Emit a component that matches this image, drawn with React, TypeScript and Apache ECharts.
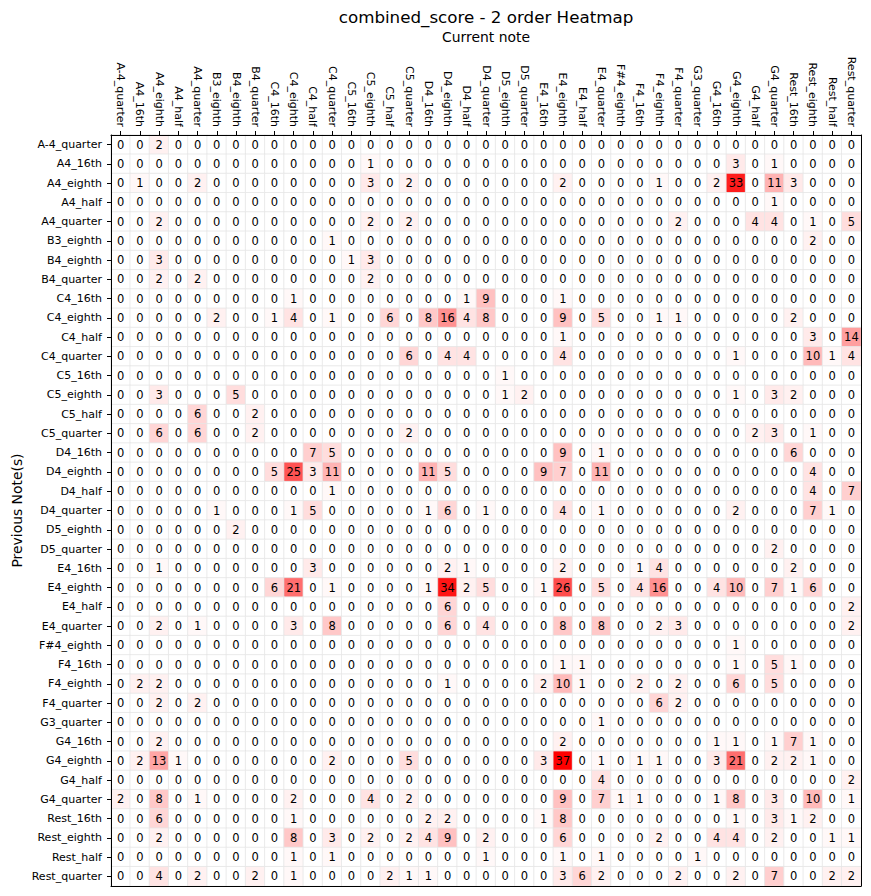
import React, { useEffect, useRef } from 'react';
import * as echarts from 'echarts';

const noteLabels = [
  'A-4_quarter', 'A4_16th', 'A4_eighth', 'A4_half', 'A4_quarter', 'B3_eighth', 'B4_eighth', 'B4_quarter',
  'C4_16th', 'C4_eighth', 'C4_half', 'C4_quarter', 'C5_16th', 'C5_eighth', 'C5_half', 'C5_quarter',
  'D4_16th', 'D4_eighth', 'D4_half', 'D4_quarter', 'D5_eighth', 'D5_quarter', 'E4_16th', 'E4_eighth',
  'E4_half', 'E4_quarter', 'F#4_eighth', 'F4_16th', 'F4_eighth', 'F4_quarter', 'G3_quarter', 'G4_16th',
  'G4_eighth', 'G4_half', 'G4_quarter', 'Rest_16th', 'Rest_eighth', 'Rest_half', 'Rest_quarter',
];

const currentNotes = noteLabels;
const previousNotes = noteLabels;

// rows = previous note(s), columns = current note
const counts: number[][] = [
  /* A-4_quarter */ [0,0,2,0,0,0,0,0,0,0, 0,0,0,0,0,0,0,0,0,0, 0,0,0,0,0,0,0,0,0,0, 0,0,0,0,0,0,0,0,0],
  /* A4_16th     */ [0,0,0,0,0,0,0,0,0,0, 0,0,0,1,0,0,0,0,0,0, 0,0,0,0,0,0,0,0,0,0, 0,0,3,0,1,0,0,0,0],
  /* A4_eighth   */ [0,1,0,0,2,0,0,0,0,0, 0,0,0,3,0,2,0,0,0,0, 0,0,0,2,0,0,0,0,1,0, 0,2,33,0,11,3,0,0,0],
  /* A4_half     */ [0,0,0,0,0,0,0,0,0,0, 0,0,0,0,0,0,0,0,0,0, 0,0,0,0,0,0,0,0,0,0, 0,0,0,0,1,0,0,0,0],
  /* A4_quarter  */ [0,0,2,0,0,0,0,0,0,0, 0,0,0,2,0,2,0,0,0,0, 0,0,0,0,0,0,0,0,0,2, 0,0,0,4,4,0,1,0,5],
  /* B3_eighth   */ [0,0,0,0,0,0,0,0,0,0, 0,1,0,0,0,0,0,0,0,0, 0,0,0,0,0,0,0,0,0,0, 0,0,0,0,0,0,2,0,0],
  /* B4_eighth   */ [0,0,3,0,0,0,0,0,0,0, 0,0,1,3,0,0,0,0,0,0, 0,0,0,0,0,0,0,0,0,0, 0,0,0,0,0,0,0,0,0],
  /* B4_quarter  */ [0,0,2,0,2,0,0,0,0,0, 0,0,0,2,0,0,0,0,0,0, 0,0,0,0,0,0,0,0,0,0, 0,0,0,0,0,0,0,0,0],
  /* C4_16th     */ [0,0,0,0,0,0,0,0,0,1, 0,0,0,0,0,0,0,0,1,9, 0,0,0,1,0,0,0,0,0,0, 0,0,0,0,0,0,0,0,0],
  /* C4_eighth   */ [0,0,0,0,0,2,0,0,1,4, 0,1,0,0,6,0,8,16,4,8, 0,0,0,9,0,5,0,0,1,1, 0,0,0,0,0,2,0,0,0],
  /* C4_half     */ [0,0,0,0,0,0,0,0,0,0, 0,0,0,0,0,0,0,0,0,0, 0,0,0,1,0,0,0,0,0,0, 0,0,0,0,0,0,3,0,14],
  /* C4_quarter  */ [0,0,0,0,0,0,0,0,0,0, 0,0,0,0,0,6,0,4,4,0, 0,0,0,4,0,0,0,0,0,0, 0,0,1,0,0,0,10,1,4],
  /* C5_16th     */ [0,0,0,0,0,0,0,0,0,0, 0,0,0,0,0,0,0,0,0,0, 1,0,0,0,0,0,0,0,0,0, 0,0,0,0,0,0,0,0,0],
  /* C5_eighth   */ [0,0,3,0,0,0,5,0,0,0, 0,0,0,0,0,0,0,0,0,0, 1,2,0,0,0,0,0,0,0,0, 0,0,1,0,3,2,0,0,0],
  /* C5_half     */ [0,0,0,0,6,0,0,2,0,0, 0,0,0,0,0,0,0,0,0,0, 0,0,0,0,0,0,0,0,0,0, 0,0,0,0,0,0,0,0,0],
  /* C5_quarter  */ [0,0,6,0,6,0,0,2,0,0, 0,0,0,0,0,2,0,0,0,0, 0,0,0,0,0,0,0,0,0,0, 0,0,0,2,3,0,1,0,0],
  /* D4_16th     */ [0,0,0,0,0,0,0,0,0,0, 7,5,0,0,0,0,0,0,0,0, 0,0,0,9,0,1,0,0,0,0, 0,0,0,0,0,6,0,0,0],
  /* D4_eighth   */ [0,0,0,0,0,0,0,0,5,25, 3,11,0,0,0,0,11,5,0,0, 0,0,9,7,0,11,0,0,0,0, 0,0,0,0,0,0,4,0,0],
  /* D4_half     */ [0,0,0,0,0,0,0,0,0,0, 0,1,0,0,0,0,0,0,0,0, 0,0,0,0,0,0,0,0,0,0, 0,0,0,0,0,0,4,0,7],
  /* D4_quarter  */ [0,0,0,0,0,1,0,0,0,1, 5,0,0,0,0,0,1,6,0,1, 0,0,0,4,0,1,0,0,0,0, 0,0,2,0,0,0,7,1,0],
  /* D5_eighth   */ [0,0,0,0,0,0,2,0,0,0, 0,0,0,0,0,0,0,0,0,0, 0,0,0,0,0,0,0,0,0,0, 0,0,0,0,0,0,0,0,0],
  /* D5_quarter  */ [0,0,0,0,0,0,0,0,0,0, 0,0,0,0,0,0,0,0,0,0, 0,0,0,0,0,0,0,0,0,0, 0,0,0,0,2,0,0,0,0],
  /* E4_16th     */ [0,0,1,0,0,0,0,0,0,0, 3,0,0,0,0,0,0,2,1,0, 0,0,0,2,0,0,0,1,4,0, 0,0,0,0,0,2,0,0,0],
  /* E4_eighth   */ [0,0,0,0,0,0,0,0,6,21, 0,1,0,0,0,0,1,34,2,5, 0,0,1,26,0,5,0,4,16,0, 0,4,10,0,7,1,6,0,0],
  /* E4_half     */ [0,0,0,0,0,0,0,0,0,0, 0,0,0,0,0,0,0,6,0,0, 0,0,0,0,0,0,0,0,0,0, 0,0,0,0,0,0,0,0,2],
  /* E4_quarter  */ [0,0,2,0,1,0,0,0,0,3, 0,8,0,0,0,0,0,6,0,4, 0,0,0,8,0,8,0,0,2,3, 0,0,0,0,0,0,0,0,2],
  /* F#4_eighth  */ [0,0,0,0,0,0,0,0,0,0, 0,0,0,0,0,0,0,0,0,0, 0,0,0,0,0,0,0,0,0,0, 0,0,1,0,0,0,0,0,0],
  /* F4_16th     */ [0,0,0,0,0,0,0,0,0,0, 0,0,0,0,0,0,0,0,0,0, 0,0,0,1,1,0,0,0,0,0, 0,0,1,0,5,1,0,0,0],
  /* F4_eighth   */ [0,2,2,0,0,0,0,0,0,0, 0,0,0,0,0,0,0,1,0,0, 0,0,2,10,1,0,0,2,0,2, 0,0,6,0,5,0,0,0,0],
  /* F4_quarter  */ [0,0,2,0,2,0,0,0,0,0, 0,0,0,0,0,0,0,0,0,0, 0,0,0,0,0,0,0,0,6,2, 0,0,0,0,0,0,0,0,0],
  /* G3_quarter  */ [0,0,0,0,0,0,0,0,0,0, 0,0,0,0,0,0,0,0,0,0, 0,0,0,0,0,1,0,0,0,0, 0,0,0,0,0,0,0,0,0],
  /* G4_16th     */ [0,0,2,0,0,0,0,0,0,0, 0,0,0,0,0,0,0,0,0,0, 0,0,0,2,0,0,0,0,0,0, 0,1,1,0,1,7,1,0,0],
  /* G4_eighth   */ [0,2,13,1,0,0,0,0,0,0, 0,2,0,0,0,5,0,0,0,0, 0,0,3,37,0,1,0,1,1,0, 0,3,21,0,2,2,1,0,0],
  /* G4_half     */ [0,0,0,0,0,0,0,0,0,0, 0,0,0,0,0,0,0,0,0,0, 0,0,0,0,0,4,0,0,0,0, 0,0,0,0,0,0,0,0,2],
  /* G4_quarter  */ [2,0,8,0,1,0,0,0,0,2, 0,0,0,4,0,2,0,0,0,0, 0,0,0,9,0,7,1,1,0,0, 0,1,8,0,3,0,10,0,1],
  /* Rest_16th   */ [0,0,6,0,0,0,0,0,0,1, 0,0,0,0,0,0,2,2,0,0, 0,0,1,8,0,0,0,0,0,0, 0,0,1,0,3,1,2,0,0],
  /* Rest_eighth */ [0,0,2,0,0,0,0,0,0,8, 0,3,0,2,0,2,4,9,0,2, 0,0,0,6,0,0,0,0,2,0, 0,4,4,0,2,0,0,1,1],
  /* Rest_half   */ [0,0,0,0,0,0,0,0,0,1, 0,1,0,0,0,0,0,0,0,1, 0,0,0,1,0,1,0,0,0,0, 1,0,0,0,0,0,0,0,0],
  /* Rest_quarter*/ [0,0,4,0,2,0,0,2,0,1, 0,0,0,0,2,1,1,0,0,0, 0,0,0,3,6,2,0,0,0,2, 0,0,2,0,7,0,0,2,2],
];

const titleText = 'combined_score - 2 order Heatmap';
const xAxisTitle = 'Current note';
const yAxisTitle = 'Previous Note(s)';

const FONT = 'DejaVu Sans';

export default function App() {
  const ref = useRef<HTMLDivElement>(null);

  useEffect(() => {
    document.body.style.margin = '0';
    if (!ref.current) return;
    const chart = echarts.init(ref.current, undefined, { renderer: 'svg' });

    const data: [number, number, number][] = [];
    let maxVal = 0;
    counts.forEach((row, r) => {
      row.forEach((v, c) => {
        data.push([c, r, v]);
        if (v > maxVal) maxVal = v;
      });
    });

    const GRID_LEFT = 111;
    const GRID_TOP = 135;
    const GRID_W = 750;
    const GRID_H = 751;

    chart.setOption({
      animation: false,
      backgroundColor: '#ffffff',
      textStyle: { fontFamily: FONT },
      graphic: [
        {
          type: 'text',
          x: GRID_LEFT + GRID_W / 2,
          y: 17,
          style: {
            text: titleText,
            fontFamily: FONT,
            fontSize: 16.7,
            fill: '#000',
            align: 'center',
            verticalAlign: 'middle',
          },
        },
        {
          type: 'text',
          x: GRID_LEFT + GRID_W / 2,
          y: 37,
          style: {
            text: xAxisTitle,
            fontFamily: FONT,
            fontSize: 13.9,
            fill: '#000',
            align: 'center',
            verticalAlign: 'middle',
          },
        },
        {
          type: 'text',
          x: 17,
          y: GRID_TOP + GRID_H / 2,
          rotation: Math.PI / 2,
          style: {
            text: yAxisTitle,
            fontFamily: FONT,
            fontSize: 13.9,
            fill: '#000',
            align: 'center',
            verticalAlign: 'middle',
          },
        },
      ],
      grid: {
        left: GRID_LEFT,
        top: GRID_TOP,
        width: GRID_W,
        height: GRID_H,
        containLabel: false,
      },
      xAxis: [
        {
          type: 'category',
          position: 'top',
          data: currentNotes,
          z: 10,
          axisLine: { show: true, lineStyle: { color: '#000', width: 1 } },
          axisTick: { show: true, alignWithLabel: true, interval: 0, length: 4, lineStyle: { color: '#000' } },
          axisLabel: {
            interval: 0,
            rotate: 90,
            fontSize: 11,
            color: '#000',
            fontFamily: FONT,
            margin: 8,
          },
          splitLine: { show: false },
        },
        {
          type: 'category',
          position: 'bottom',
          data: currentNotes,
          z: 10,
          axisLine: { show: true, lineStyle: { color: '#000', width: 1 } },
          axisTick: { show: false },
          axisLabel: { show: false },
        },
      ],
      yAxis: [
        {
          type: 'category',
          inverse: true,
          position: 'left',
          data: previousNotes,
          z: 10,
          axisLine: { show: true, lineStyle: { color: '#000', width: 1 } },
          axisTick: { show: true, alignWithLabel: true, interval: 0, length: 4, lineStyle: { color: '#000' } },
          axisLabel: {
            interval: 0,
            fontSize: 11,
            color: '#000',
            fontFamily: FONT,
            margin: 9,
          },
          splitLine: { show: false },
        },
        {
          type: 'category',
          inverse: true,
          position: 'right',
          data: previousNotes,
          z: 10,
          axisLine: { show: true, lineStyle: { color: '#000', width: 1 } },
          axisTick: { show: false },
          axisLabel: { show: false },
        },
      ],
      visualMap: {
        type: 'continuous',
        show: false,
        min: 0,
        max: maxVal,
        dimension: 2,
        seriesIndex: 0,
        inRange: { color: ['#ffffff', '#ff0000'] },
      },
      series: [
        {
          type: 'heatmap',
          xAxisIndex: 0,
          yAxisIndex: 0,
          data,
          itemStyle: { borderColor: '#e6e6e6', borderWidth: 0.8 },
          label: {
            show: true,
            color: '#000',
            fontSize: 11.5,
            fontFamily: FONT,
            formatter: (p: any) => String(p.value[2]),
          },
          emphasis: { disabled: true },
        },
      ],
    });

    return () => {
      chart.dispose();
    };
  }, []);

  return <div ref={ref} style={{ width: 871, height: 896 }} />;
}
